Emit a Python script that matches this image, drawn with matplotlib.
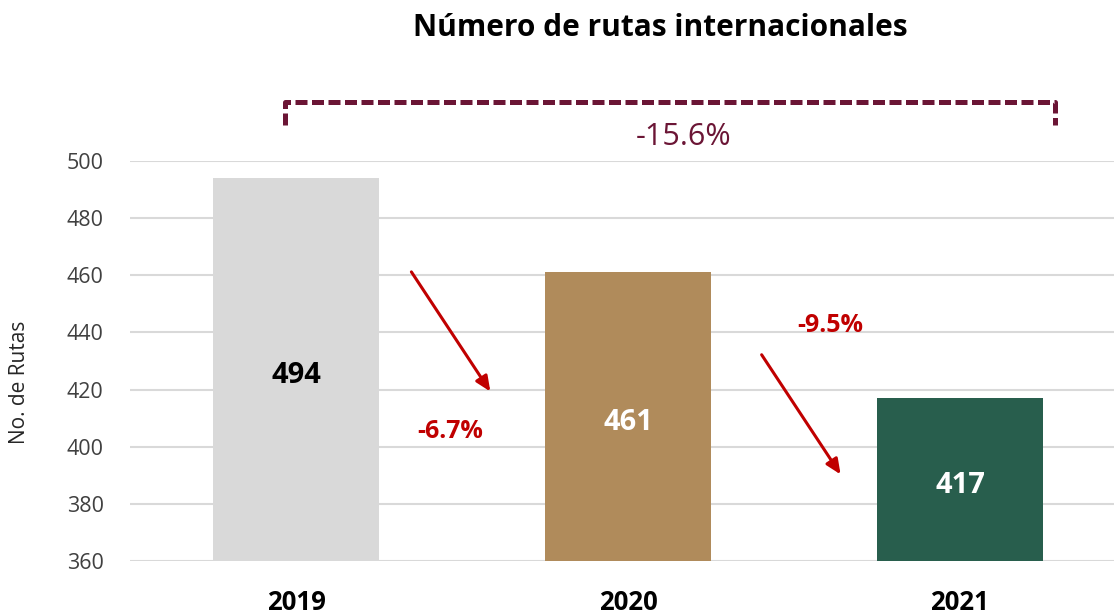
import matplotlib
matplotlib.use("Agg")
import matplotlib.pyplot as plt

years = ["2019", "2020", "2021"]
routes = [494, 461, 417]
bar_colors = ["#d9d9d9", "#b08b5b", "#285e4d"]
label_colors = ["black", "white", "white"]
yoy_changes = ["-6.7%", "-9.5%"]
total_change = "-15.6%"
y_ticks = [360, 380, 400, 420, 440, 460, 480, 500]

plt.rcParams['font.family'] = ['Open Sans', 'DejaVu Sans']

fig = plt.figure(figsize=(11.14, 6.15), dpi=100)
ax = fig.add_axes([130/1114, 54/615, (1114-130)/1114, 400/615])

x = list(range(len(years)))
ax.bar(x, [r - 360 for r in routes], bottom=360, width=0.5, color=bar_colors, zorder=3)
ax.set_xlim(-0.5, 2.464)
ax.set_ylim(360, 500)
ax.set_yticks(y_ticks)
ax.set_yticklabels([str(t) for t in y_ticks], fontsize=15.5, color="#404040")
ax.set_xticks(x)
ax.set_xticklabels(years, fontsize=18.5, fontweight="bold", color="black")
ax.tick_params(axis="both", length=0)
ax.tick_params(axis="y", pad=19)
ax.tick_params(axis="x", pad=20)
ax.grid(axis="y", color="#d9d9d9", linewidth=1.5, zorder=0)
for s in ax.spines.values():
    s.set_visible(False)
ax.set_ylabel("No. de Rutas", fontsize=15, color="#262626")
ax.yaxis.set_label_coords(-0.1016, 0.4475)

for xi, r, c in zip(x, routes, label_colors):
    ax.text(xi, (r + 360) / 2 - 2.0, str(r), ha="center", va="center",
            fontsize=21, fontweight="bold", color=c, zorder=4)

# year-over-year arrows and labels
arrow_kw = dict(arrowstyle="-|>,head_length=0.9,head_width=0.4", color="#c00000", lw=2.2)
ax.annotate("", xy=(0.59, 418.5), xytext=(0.343, 462), arrowprops=arrow_kw, zorder=5)
ax.annotate("", xy=(1.645, 389.5), xytext=(1.398, 433), arrowprops=arrow_kw, zorder=5)
ax.text(0.463, 405.3, yoy_changes[0], ha="center", va="center", fontsize=18,
        fontweight="bold", color="#c00000")
ax.text(1.608, 442.5, yoy_changes[1], ha="center", va="center", fontsize=18,
        fontweight="bold", color="#c00000")

# overall bracket
mar = "#6b1535"
ax.plot([-0.033, -0.033, 2.286, 2.286], [512.5, 520.6, 520.6, 512.5], color=mar,
        lw=3.6, ls=(0, (2.4, 0.9)), clip_on=False, solid_capstyle="butt",
        dash_capstyle="butt")
ax.text(1.166, 508.3, total_change, ha="center", va="center", fontsize=22,
        color=mar, clip_on=False)

fig.text(660/1114, 1 - 28/615, "Número de rutas internacionales", ha="center",
         va="center", fontsize=21.5, fontweight="bold", color="black")

fig.savefig("out.png", dpi=100)
